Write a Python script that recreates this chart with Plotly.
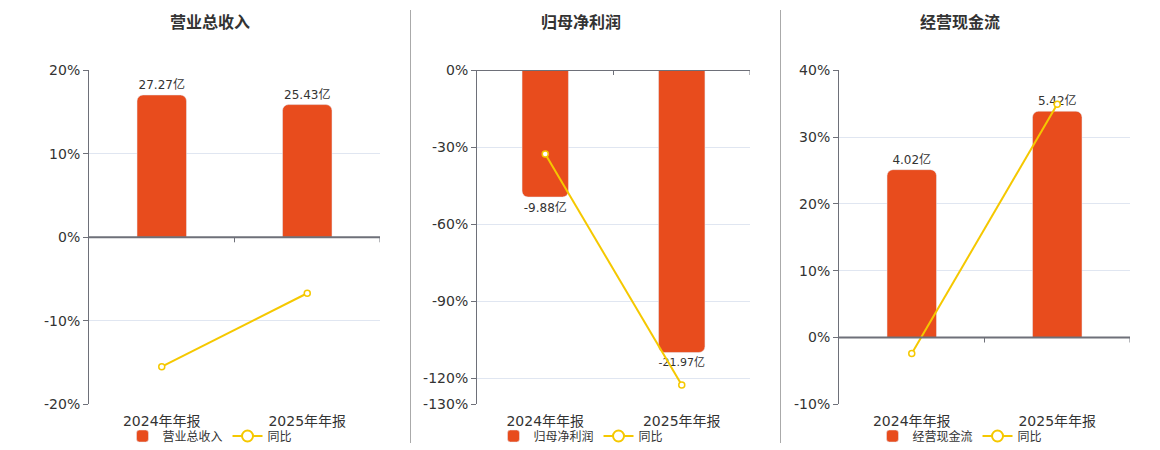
import plotly.graph_objects as go

categories = ['2024年年报', '2025年年报']

revenue = [27.27, 25.43]          # 营业总收入, 亿
revenue_yoy = [-15.5, -6.7]       # 同比 %
profit = [-9.88, -21.97]          # 归母净利润, 亿
profit_yoy = [-32.7, -122.5]
cashflow = [4.02, 5.42]           # 经营现金流, 亿
cashflow_yoy = [-2.4, 34.9]

titles = ['营业总收入', '归母净利润', '经营现金流']

rev_ticks = [-20, -10, 0, 10, 20]
profit_ticks = [-130, -120, -90, -60, -30, 0]
cash_ticks = [-10, 0, 10, 20, 30, 40]

BAR = '#E84C1D'
LINE = '#F5C800'
AXIS = '#6E7079'
GRID = '#E0E6F1'
TXT = '#333333'
FONT = 'DejaVu Sans, Noto Sans CJK SC'

# page has an 8px body margin, so the figure is drawn 8px smaller and positions shifted
OFF = 8
W, H = 1160 - OFF, 450 - OFF
def px(x):
    return (x - OFF) / W
def py(y):
    return 1 - (y - OFF) / H

panels = [
    dict(bars=revenue, yoy=revenue_yoy, xd=[px(89), px(380)], yd=[py(404.3), py(70.3)],
         rng=[-20, 20], tickvals=rev_ticks, rng2=[-32, 32], center=210),
    dict(bars=profit, yoy=profit_yoy, xd=[px(477), px(750)], yd=[py(404.3), py(70)],
         rng=[-130, 0], tickvals=profit_ticks, rng2=[-26, 0], center=581),
    dict(bars=cashflow, yoy=cashflow_yoy, xd=[px(839), px(1130)], yd=[py(404.3), py(70.3)],
         rng=[-10, 40], tickvals=cash_ticks, rng2=[-1.6, 6.4], center=960),
]

fig = go.Figure()
shapes = []
annotations = []
layout = {}

for i, p in enumerate(panels):
    n = i + 1
    xa = 'x' if n == 1 else f'x{n}'
    yb = 'y' if n == 1 else f'y{n}'      # hidden axis for the bars (亿)
    yp = f'y{n + 3}'                      # visible percentage axis, overlaid so the line sits on top
    leg = 'legend' if n == 1 else f'legend{n}'

    fig.add_trace(go.Bar(
        x=categories, y=p['bars'], name=titles[i],
        xaxis=xa, yaxis=yb, legend=leg,
        marker=dict(color=BAR, cornerradius=6), width=0.34,
        text=[f'{v}亿' for v in p['bars']], textposition='outside',
        textfont=dict(size=12, color=TXT), cliponaxis=False,
    ))
    fig.add_trace(go.Scatter(
        x=categories, y=p['yoy'], name='同比', mode='lines+markers',
        xaxis=xa, yaxis=yp, showlegend=False,
        line=dict(color=LINE, width=2),
        marker=dict(symbol='circle', size=6, color='white', line=dict(color=LINE, width=1.5)),
        cliponaxis=False,
    ))
    # legend entry only: thin line with a larger open circle, like the original
    fig.add_trace(go.Scatter(
        x=[None], y=[None], name='同比', mode='lines+markers',
        xaxis=xa, yaxis=yp, legend=leg,
        line=dict(color=LINE, width=2),
        marker=dict(symbol='circle', size=11, color='white', line=dict(color=LINE, width=2)),
    ))

    xkey = 'xaxis' if n == 1 else f'xaxis{n}'
    ykey = 'yaxis' if n == 1 else f'yaxis{n}'
    layout[xkey] = dict(
        domain=p['xd'], anchor=yb, range=[-0.5, 1.5], showgrid=False, zeroline=False,
        showline=False, ticks='', ticklabelstandoff=7, tickfont=dict(size=14, color=TXT),
    )
    layout[ykey] = dict(
        domain=p['yd'], anchor=xa, range=p['rng2'], showgrid=False, zeroline=False,
        showline=False, showticklabels=False, ticks='',
    )
    layout[f'yaxis{n + 3}'] = dict(
        overlaying=yb, anchor=xa, side='left', range=p['rng'], tickmode='array',
        tickvals=p['tickvals'], ticktext=[f'{v}%' for v in p['tickvals']],
        showgrid=True, gridcolor=GRID, gridwidth=1, zeroline=False,
        showline=True, linecolor=AXIS, linewidth=1,
        ticks='outside', ticklen=5, tickcolor=AXIS,
        tickfont=dict(size=14, color=TXT),
    )
    layout[leg] = dict(
        orientation='h', x=px(p['center']), xanchor='center', y=py(436), yanchor='middle',
        font=dict(size=12, color=TXT), bgcolor='rgba(0,0,0,0)', traceorder='normal',
    )

    # category axis line at 0% with boundary ticks
    shapes.append(dict(type='line', xref=f'{xa} domain', yref=yp, x0=0, x1=1, y0=0, y1=0,
                       line=dict(color=AXIS, width=2), layer='above'))
    for b in [k + 0.5 for k in range(len(categories))]:
        shapes.append(dict(type='line', xref=xa, yref=yp, ysizemode='pixel', yanchor=0,
                           x0=b, x1=b, y0=0, y1=-5, line=dict(color=AXIS, width=1)))

    annotations.append(dict(text=f'<b>{titles[i]}</b>', x=px(p['center']), y=py(22),
                             xref='paper', yref='paper', xanchor='center', yanchor='middle',
                             showarrow=False, font=dict(size=16, color=TXT)))

# panel separators
for sx in [410.5, 780.5]:
    shapes.append(dict(type='line', xref='paper', yref='paper', x0=px(sx), x1=px(sx),
                       y0=py(443), y1=py(10), line=dict(color='#AAAAAA', width=1)))

fig.update_layout(
    width=W, height=H, margin=dict(l=0, r=0, t=0, b=0, autoexpand=False),
    paper_bgcolor='white', plot_bgcolor='white',
    font=dict(family=FONT, color=TXT),
    barmode='group', showlegend=True,
    shapes=shapes, annotations=annotations,
    **layout,
)

fig.write_html('out.html')
